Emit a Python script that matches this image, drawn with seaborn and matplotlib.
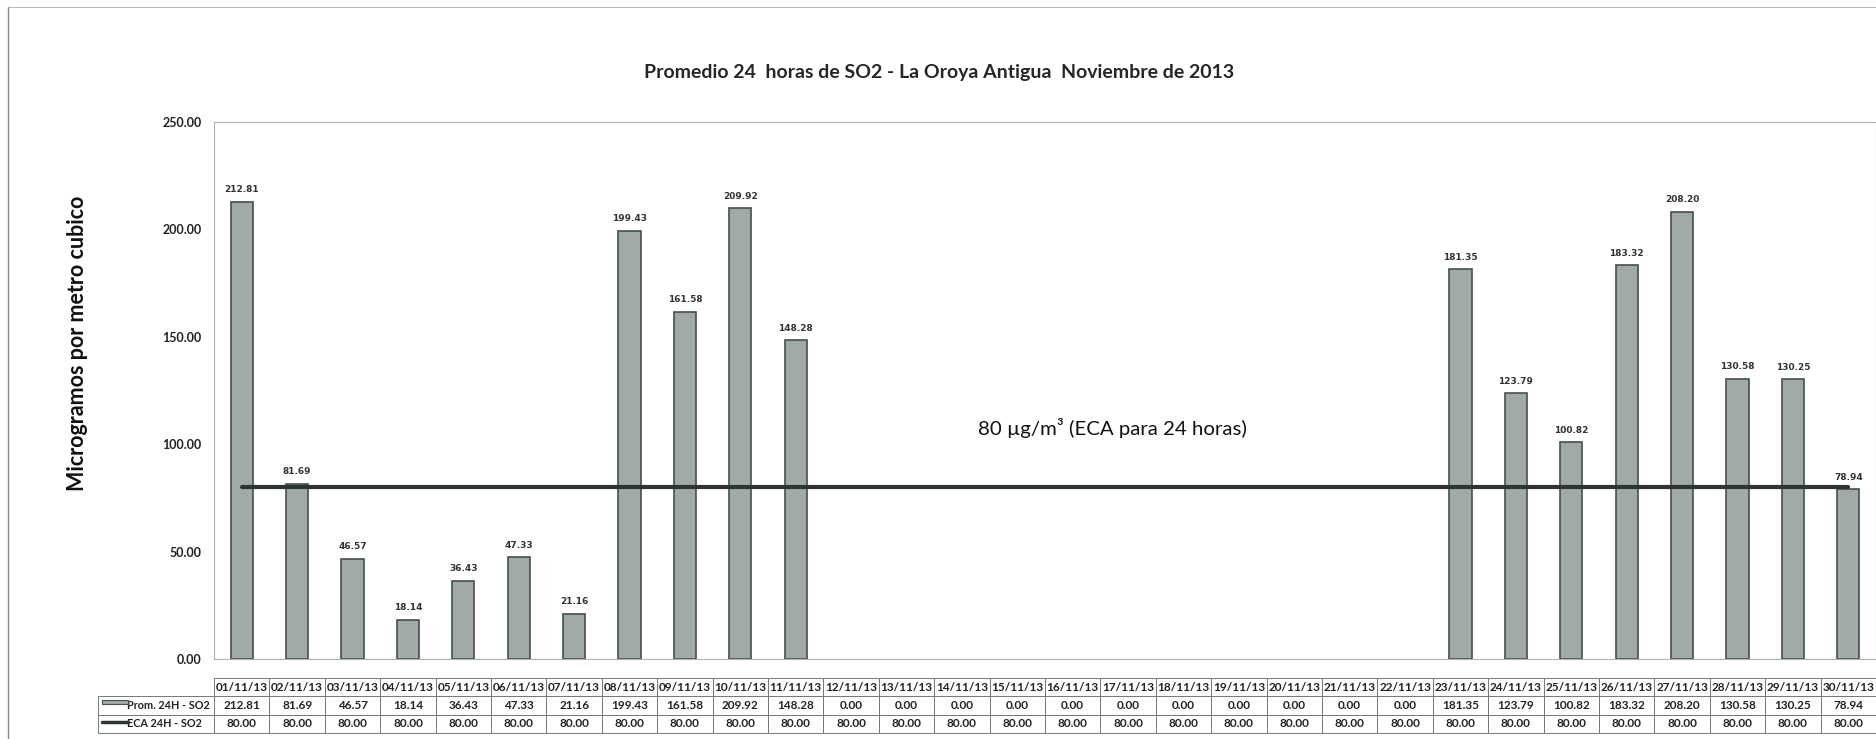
import numpy as np
import matplotlib
matplotlib.use("Agg")
import matplotlib.pyplot as plt
import matplotlib.patches as mpatches
import matplotlib.lines as mlines
import seaborn as sns

dates = ["%02d/11/13" % d for d in range(1, 31)]
prom_so2 = [212.81, 81.69, 46.57, 18.14, 36.43, 47.33, 21.16, 199.43, 161.58, 209.92,
            148.28, 0.00, 0.00, 0.00, 0.00, 0.00, 0.00, 0.00, 0.00, 0.00,
            0.00, 0.00, 181.35, 123.79, 100.82, 183.32, 208.20, 130.58, 130.25, 78.94]
eca_so2 = [80.00] * 30
row_labels = ["Prom. 24H - SO2", "ECA 24H - SO2"]
y_ticks = [0, 50, 100, 150, 200, 250]

title = "Promedio 24  horas de SO2 - La Oroya Antigua  Noviembre de 2013"
y_label = "Microgramos por metro cubico"
note = "80 \u00b5g/m\u00b3 (ECA para 24 horas)"

bar_color = "#a2aaa5"
bar_edge = "#46504a"
line_color = "#2c3530"

sns.set_theme(style="white")
plt.rcParams["font.family"] = ["Lato", "DejaVu Sans"]

fig = plt.figure(figsize=(18.76, 7.39), dpi=100)
ax = fig.add_axes([0.1141, 0.1083, 0.8859, 0.7266])

sns.barplot(x=dates, y=prom_so2, color=bar_color, edgecolor=bar_edge, linewidth=1.2,
            width=0.40, saturation=1, ax=ax)
# zero days have no visible bar
for patch, v in zip(ax.patches, prom_so2):
    if v == 0:
        patch.set_visible(False)
sns.lineplot(x=dates, y=eca_so2, color=line_color, linewidth=3.0, sort=False, ax=ax)

ax.set_xlim(-0.5, len(dates) - 0.5)
ax.set_ylim(0, 250)
ax.set_yticks(y_ticks)
ax.set_yticklabels(["%.2f" % v for v in y_ticks], fontsize=9, fontweight="bold",
                   color="#222222")
ax.tick_params(axis="y", length=0, pad=9)
ax.set_xticks([])
ax.set_xlabel("")
ax.set_ylabel(y_label, fontsize=15.5, fontweight="bold", color="#111111")
ax.yaxis.set_label_coords(-0.0758, 0.587)
for sp in ax.spines.values():
    sp.set_color("#b0b0b0")
    sp.set_linewidth(0.8)

# value labels on top of bars
for i, v in enumerate(prom_so2):
    if v > 0:
        ax.text(i, v + 3.5, "%.2f" % v, ha="center", va="bottom", fontsize=6.5,
                fontweight="bold", family="DejaVu Sans", color="#333333")

fig.text(0.5005, 0.902, title, ha="center", va="center", fontsize=14, fontweight="bold")
ax.text(15.72, 107.5, note, ha="center", va="center", fontsize=14.7, color="#111111")

# data table below the plot
lab_w = 116 / 1663
cell_text = [[""] + dates,
             [row_labels[0]] + ["%.2f" % v for v in prom_so2],
             [row_labels[1]] + ["%.2f" % v for v in eca_so2]]
col_w = [lab_w] + [1 / len(dates)] * len(dates)
tbl = ax.table(cellText=cell_text, colWidths=col_w, cellLoc="center",
               bbox=[-lab_w, -0.1378, 1 + lab_w, 0.1024])
tbl.auto_set_font_size(False)
for (r, c), cell in tbl.get_celld().items():
    cell.set_edgecolor("#777777")
    cell.set_linewidth(0.7)
    txt = cell.get_text()
    txt.set_fontsize(8.5)
    txt.set_fontweight("bold")
    txt.set_color("#222222")
    if r == 0 and c == 0:
        cell.visible_edges = ""
    if c == 0 and r > 0:
        cell._loc = "left"
        txt.set_ha("left")
        cell.PAD = 0.25
        txt.set_fontsize(7.8)

# legend keys inside the row label cells
ax.add_patch(mpatches.Rectangle((-0.0673, -0.0845), 0.0156, 0.009, transform=ax.transAxes,
                                facecolor=bar_color, edgecolor=bar_edge, linewidth=0.8,
                                clip_on=False))
ax.add_line(mlines.Line2D([-0.0673, -0.0517], [-0.117, -0.117], transform=ax.transAxes,
                          color=line_color, linewidth=2.5, clip_on=False))

# outer scan frame
fig.add_artist(mlines.Line2D([0.004, 0.004], [0, 0.99], color="#888888", linewidth=1.0))
fig.add_artist(mlines.Line2D([0.004, 1], [0.99, 0.99], color="#aaaaaa", linewidth=0.6))

fig.savefig("out.png", dpi=100)
